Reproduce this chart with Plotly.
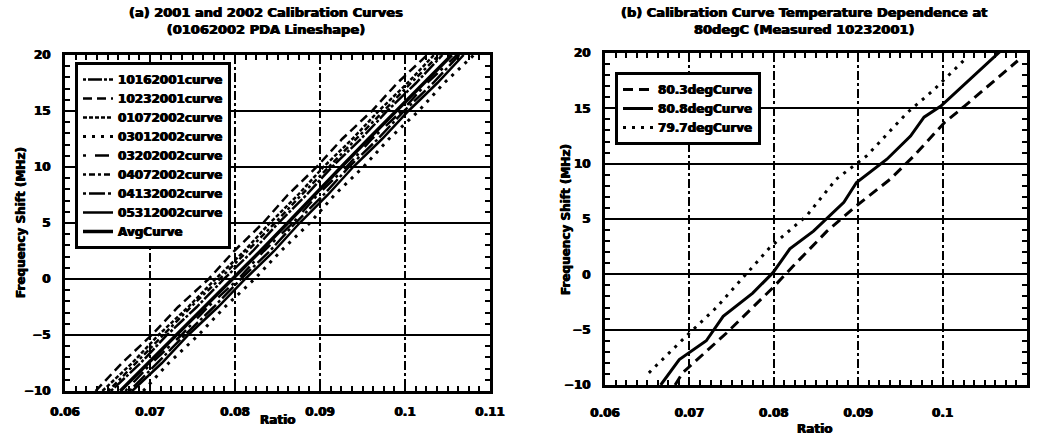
import plotly.graph_objects as go

W, H = 1039, 440

# ---------------- Panel (a) data ----------------
freq_a = [-10, -7.5, -5, -2.5, 0, 2.5, 5, 7.5, 10, 12.5, 15, 17.5, 20]
r_10162001 = [0.0654, 0.0689, 0.0720, 0.0755, 0.0787, 0.0821, 0.0851, 0.0884, 0.0914, 0.0948, 0.0979, 0.1013, 0.1044]
r_10232001 = [0.0636, 0.0667, 0.0702, 0.0733, 0.0769, 0.0799, 0.0833, 0.0862, 0.0896, 0.0926, 0.0961, 0.0991, 0.1026]
r_01072002 = [0.0644, 0.0679, 0.0710, 0.0745, 0.0777, 0.0811, 0.0841, 0.0874, 0.0904, 0.0938, 0.0969, 0.1003, 0.1034]
r_03012002 = [0.0692, 0.0722, 0.0757, 0.0788, 0.0823, 0.0854, 0.0888, 0.0917, 0.0951, 0.0981, 0.1016, 0.1046, 0.1081]
r_03202002 = [0.0671, 0.0702, 0.0737, 0.0768, 0.0804, 0.0834, 0.0868, 0.0897, 0.0931, 0.0961, 0.0996, 0.1026, 0.1061]
r_04072002 = [0.0651, 0.0683, 0.0716, 0.0748, 0.0782, 0.0815, 0.0847, 0.0878, 0.0910, 0.0942, 0.0975, 0.1007, 0.1040]
r_04132002 = [0.0676, 0.0708, 0.0741, 0.0775, 0.0807, 0.0841, 0.0871, 0.0904, 0.0934, 0.0968, 0.0999, 0.1033, 0.1064]
r_05312002 = [0.0679, 0.0714, 0.0745, 0.0780, 0.0812, 0.0846, 0.0876, 0.0909, 0.0939, 0.0973, 0.1004, 0.1038, 0.1069]
r_avg      = [0.0665, 0.0698, 0.0731, 0.0764, 0.0798, 0.0830, 0.0862, 0.0893, 0.0925, 0.0957, 0.0990, 0.1022, 0.1055]

# ---------------- Panel (b) data ----------------
r_803 = [0.0683, 0.0692, 0.0744, 0.0799, 0.0823, 0.0863, 0.0898, 0.0938, 0.0966, 0.1002, 0.1026, 0.1089]
f_803 = [-10, -8.9, -5.3, -1.2, 0.75, 3.9, 6.2, 8.6, 10.7, 13.7, 15.2, 19.3]
r_808 = [0.0666, 0.0688, 0.0720, 0.0740, 0.0775, 0.0799, 0.0819, 0.0847, 0.0883, 0.0898, 0.0934, 0.0962, 0.0978, 0.0998, 0.1069]
f_808 = [-10, -7.7, -6.0, -3.8, -1.7, 0.15, 2.3, 3.9, 6.5, 8.3, 10.4, 12.5, 14.2, 15.2, 20.2]
r_797 = [0.0652, 0.0696, 0.0732, 0.0765, 0.0795, 0.0807, 0.0839, 0.0874, 0.0910, 0.0958, 0.0990, 0.1026]
f_797 = [-8.9, -5.6, -3.0, -0.15, 2.4, 3.2, 5.3, 8.6, 10.7, 14.6, 16.7, 19.4]

x_range = [0.06, 0.11]
y_range = [-10, 20]

FONT = "DejaVu Sans"
HEAVY = "0.6px 0px 0px black, -0.4px 0px 0px black"

def f(size):
    return dict(family=FONT, size=size, color="black", weight="bold", shadow=HEAVY)

fig = go.Figure()

left_series = [
    ("10162001curve", r_10162001, "3px,2px,14px,2px", 2.5),
    ("10232001curve", r_10232001, "9px,5px", 2.5),
    ("01072002curve", r_01072002, "4px,2px", 2.5),
    ("03012002curve", r_03012002, "3px,6px", 3),
    ("03202002curve", r_03202002, "3px,9px,14px,4px", 2.5),
    ("04072002curve", r_04072002, "3px,3px,6px,3px", 2.5),
    ("04132002curve", r_04132002, "3px,3px,16px,3px", 2.5),
    ("05312002curve", r_05312002, "solid", 2.5),
    ("AvgCurve", r_avg, "solid", 3.5),
]
for name, xs, dash, w in left_series:
    fig.add_trace(go.Scatter(x=xs, y=freq_a, mode="lines", name=name,
                             line=dict(color="black", width=w, dash=dash),
                             xaxis="x", yaxis="y", legend="legend"))

right_series = [
    ("80.3degCurve", r_803, f_803, "10px,6px"),
    ("80.8degCurve", r_808, f_808, "solid"),
    ("79.7degCurve", r_797, f_797, "3px,6px"),
]
for name, xs, ys, dash in right_series:
    fig.add_trace(go.Scatter(x=xs, y=ys, mode="lines", name=name,
                             line=dict(color="black", width=3, dash=dash),
                             xaxis="x2", yaxis="y2", legend="legend2"))

# empty helper traces so the tick-only frame axes get drawn (no marks)
for xa, ya in (("x3", "y3"), ("x4", "y4")):
    fig.add_trace(go.Scatter(x=[], y=[], mode="lines", showlegend=False,
                             hoverinfo="skip", xaxis=xa, yaxis=ya))

dom_ax = [65 / W, 490 / W]
dom_ay = [1 - 391 / H, 1 - 55 / H]
dom_bx = [605 / W, 1027 / W]
dom_by = [1 - 385 / H, 1 - 53 / H]

def xaxis(domain, anchor, standoff):
    return dict(domain=domain, anchor=anchor, range=x_range,
                tickmode="linear", tick0=0.06, dtick=0.01,
                showline=True, linewidth=3, linecolor="black", mirror="allticks",
                ticks="inside", ticklen=6, tickwidth=2, tickcolor="black",
                showgrid=True, gridcolor="black", gridwidth=1.5, griddash="dashdot",
                zeroline=False, tickfont=f(12), ticklabelstandoff=standoff,
                automargin=False)

def yaxis(domain, anchor, standoff):
    return dict(domain=domain, anchor=anchor, range=y_range,
                tickmode="linear", tick0=-10, dtick=5,
                showline=True, linewidth=3, linecolor="black", mirror="allticks",
                ticks="inside", ticklen=6, tickwidth=2, tickcolor="black",
                showgrid=True, gridcolor="black", gridwidth=2,
                zeroline=False, tickfont=f(12), ticklabelstandoff=standoff,
                automargin=False)

# frame axes on the same domains carrying the minor tick marks only
def minor_x(domain, anchor):
    return dict(domain=domain, anchor=anchor, range=x_range,
                tickmode="linear", tick0=0.06, dtick=0.01,
                showline=True, linewidth=3, linecolor="black", mirror="allticks",
                ticks="inside", ticklen=6, tickwidth=2, tickcolor="black",
                showticklabels=False, showgrid=False, zeroline=False, automargin=False,
                minor=dict(ticks="inside", ticklen=5, tickwidth=1.5, tickcolor="black",
                           dtick=0.00125, tick0=0.06))

def minor_y(domain, anchor):
    return dict(domain=domain, anchor=anchor, range=y_range,
                tickmode="linear", tick0=-10, dtick=5,
                showline=True, linewidth=3, linecolor="black", mirror="allticks",
                ticks="inside", ticklen=6, tickwidth=2, tickcolor="black",
                showticklabels=False, showgrid=False, zeroline=False, automargin=False,
                minor=dict(ticks="inside", ticklen=5, tickwidth=1.5, tickcolor="black",
                           dtick=1, tick0=0))

fig.update_layout(
    width=W, height=H,
    margin=dict(l=0, r=0, t=0, b=0),
    paper_bgcolor="white", plot_bgcolor="rgba(0,0,0,0)",
    showlegend=True,
    xaxis=xaxis(dom_ax, "y", 8),
    yaxis=yaxis(dom_ay, "x", 9),
    xaxis2=xaxis(dom_bx, "y2", 15),
    yaxis2=yaxis(dom_by, "x2", 9),
    xaxis3=minor_x(dom_ax, "y3"),
    yaxis3=minor_y(dom_ay, "x3"),
    xaxis4=minor_x(dom_bx, "y4"),
    yaxis4=minor_y(dom_by, "x4"),
    legend=dict(x=75 / W, y=1 - 62 / H, xanchor="left", yanchor="top",
                bgcolor="white", bordercolor="black", borderwidth=3,
                font=f(12), tracegroupgap=0, itemwidth=30),
    legend2=dict(x=615 / W, y=1 - 72 / H, xanchor="left", yanchor="top",
                 bgcolor="white", bordercolor="black", borderwidth=3,
                 font=f(12), tracegroupgap=0, itemwidth=30),
    annotations=[
        dict(text="(a) 2001 and 2002 Calibration Curves<br>(01062002 PDA Lineshape)",
             x=266 / W, y=1 - 21 / H, xref="paper", yref="paper", showarrow=False,
             font=f(13), xanchor="center", yanchor="middle"),
        dict(text="(b) Calibration Curve Temperature Dependence at<br>80degC (Measured 10232001)",
             x=804 / W, y=1 - 21 / H, xref="paper", yref="paper", showarrow=False,
             font=f(13), xanchor="center", yanchor="middle"),
        dict(text="Ratio", x=277 / W, y=1 - 420 / H, xref="paper", yref="paper",
             showarrow=False, font=f(12), xanchor="center", yanchor="middle"),
        dict(text="Ratio", x=814 / W, y=1 - 429 / H, xref="paper", yref="paper",
             showarrow=False, font=f(12), xanchor="center", yanchor="middle"),
        dict(text="Frequency Shift (MHz)", x=21 / W, y=1 - 223 / H, xref="paper", yref="paper",
             showarrow=False, textangle=-90, font=f(12),
             xanchor="center", yanchor="middle"),
        dict(text="Frequency Shift (MHz)", x=566 / W, y=1 - 220 / H, xref="paper", yref="paper",
             showarrow=False, textangle=-90, font=f(12),
             xanchor="center", yanchor="middle"),
    ],
)

fig.write_html("out.html")
